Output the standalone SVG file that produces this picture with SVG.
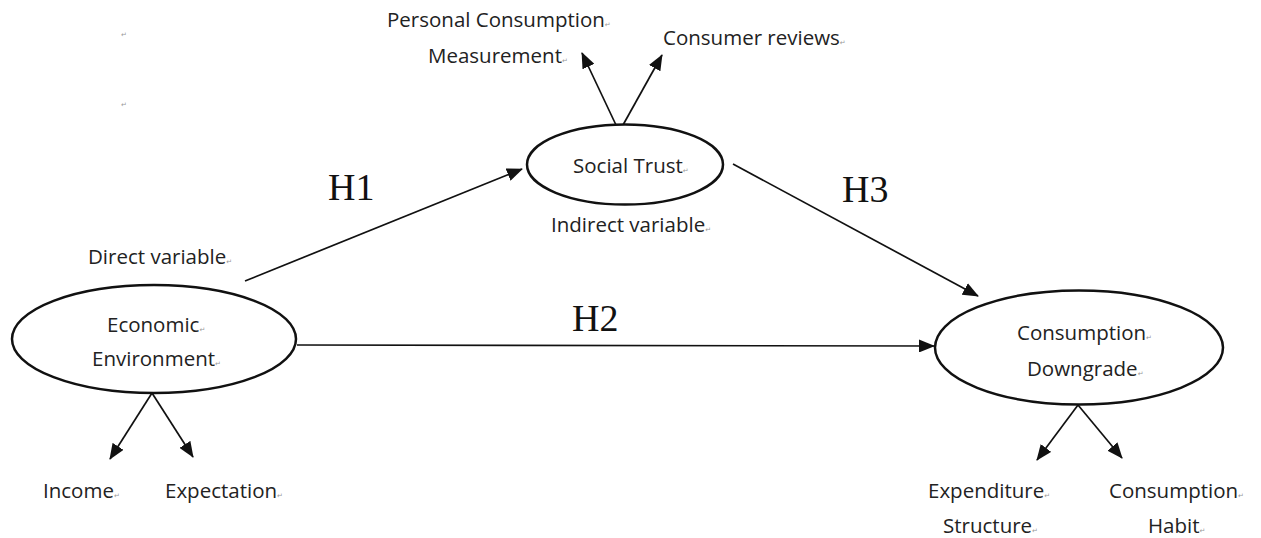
<svg xmlns="http://www.w3.org/2000/svg" width="1261" height="538" viewBox="0 0 1261 538">
<style>
.t{font-family:"Open Sans","Liberation Sans",sans-serif;font-size:20.5px;fill:#222}
.h{font-family:"Liberation Serif","Times New Roman",serif;font-size:38px;fill:#111}
.m{font-family:"DejaVu Sans",sans-serif;font-size:7px;fill:#999}
.e{fill:#fff;stroke:#111;stroke-width:2.5}
.c{stroke:#111;stroke-width:1.7;fill:none;marker-end:url(#a)}
</style>
<defs>
<marker id="a" viewBox="0 0 16 13" refX="15" refY="6.5" markerWidth="16" markerHeight="13" markerUnits="userSpaceOnUse" orient="auto">
<path d="M0,0 L16,6.5 L0,13 Z" fill="#111"/>
</marker>
</defs>
<rect width="1261" height="538" fill="#fff"/>
<text class="m" x="121" y="37">↵</text>
<text class="m" x="121" y="107">↵</text>
<g id="connectors">
<line class="c" x1="245" y1="281" x2="522" y2="169"/>
<line class="c" x1="297" y1="345" x2="934" y2="346"/>
<line class="c" x1="733" y1="164" x2="978" y2="296"/>
<line class="c" x1="616" y1="125" x2="582" y2="53"/>
<line class="c" x1="623" y1="125" x2="662" y2="55"/>
<line class="c" x1="152" y1="393" x2="110" y2="459"/>
<line class="c" x1="152" y1="393" x2="193" y2="457"/>
<line class="c" x1="1078" y1="405" x2="1037" y2="460"/>
<line class="c" x1="1078" y1="405" x2="1122" y2="458"/>
</g>
<g id="labels">
<text class="h" x="328" y="200">H1</text>
<text class="h" x="572" y="331">H2</text>
<text class="h" x="842" y="202">H3</text>
<text class="t" x="88" y="264">Direct variable<tspan class="m">↵</tspan></text>
<text class="t" x="551" y="232">Indirect variable<tspan class="m">↵</tspan></text>
</g>
<g id="economic-environment">
<ellipse class="e" cx="154" cy="339" rx="142" ry="54"/>
<text class="t" x="107" y="332">Economic<tspan class="m">↵</tspan></text>
<text class="t" x="92" y="366">Environment<tspan class="m">↵</tspan></text>
</g>
<g id="income"><text class="t" x="43" y="498">Income<tspan class="m">↵</tspan></text></g>
<g id="expectation"><text class="t" x="165" y="498">Expectation<tspan class="m">↵</tspan></text></g>
<g id="social-trust">
<ellipse class="e" cx="625" cy="164.5" rx="98" ry="40"/>
<text class="t" x="573" y="173">Social Trust<tspan class="m">↵</tspan></text>
</g>
<g id="personal-consumption-measurement">
<text class="t" x="387" y="27">Personal Consumption<tspan class="m">↵</tspan></text>
<text class="t" x="428" y="63">Measurement<tspan class="m">↵</tspan></text>
</g>
<g id="consumer-reviews"><text class="t" x="663" y="45">Consumer reviews<tspan class="m">↵</tspan></text></g>
<g id="consumption-downgrade">
<ellipse class="e" cx="1079" cy="347.5" rx="144" ry="57"/>
<text class="t" x="1017" y="340">Consumption<tspan class="m">↵</tspan></text>
<text class="t" x="1027" y="376">Downgrade<tspan class="m">↵</tspan></text>
</g>
<g id="expenditure-structure">
<text class="t" x="928" y="498">Expenditure<tspan class="m">↵</tspan></text>
<text class="t" x="943" y="533">Structure<tspan class="m">↵</tspan></text>
</g>
<g id="consumption-habit">
<text class="t" x="1109" y="498">Consumption<tspan class="m">↵</tspan></text>
<text class="t" x="1148" y="533">Habit<tspan class="m">↵</tspan></text>
</g>
</svg>
